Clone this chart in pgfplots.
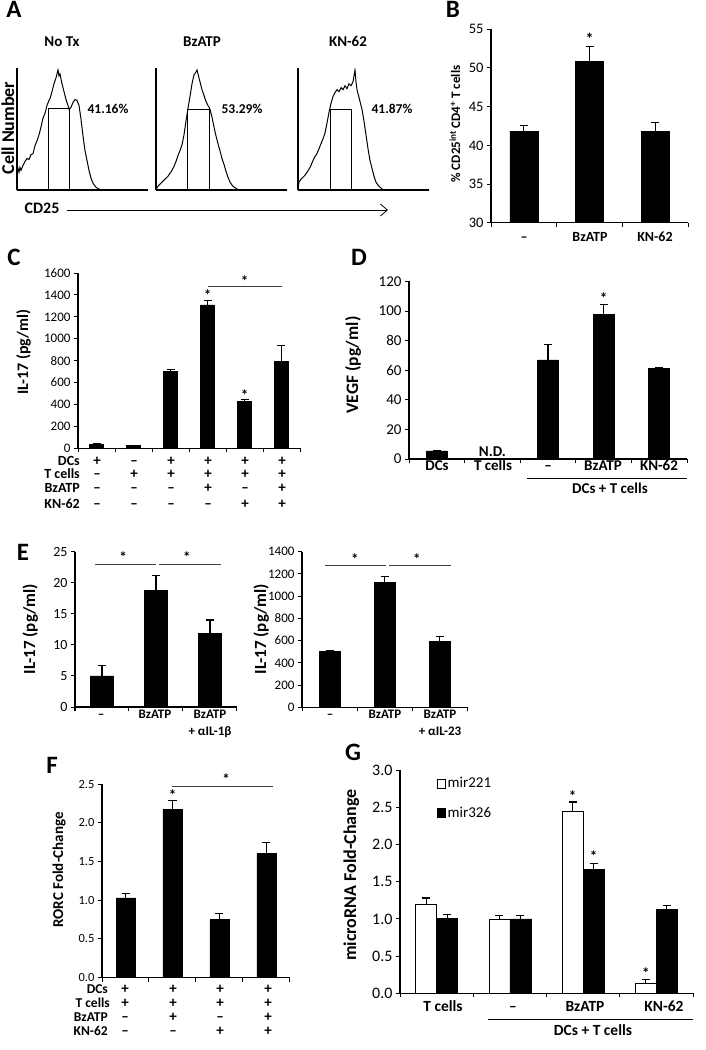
\documentclass[border=0pt]{standalone}
\usepackage{pgfplots}
\pgfplotsset{compat=1.18}
\usepackage{fontspec}
\setmainfont{Carlito}
\usetikzlibrary{arrows.meta}
\newcommand{\fs}[1]{\fontsize{#1}{#1}\selectfont}
\tikzset{tx/.style={inner sep=0pt, text height=0.63em, text depth=0pt, anchor=center}}
\pgfplotsset{
  barax/.style={scale only axis, anchor=south west, clip mode=individual,
    axis x line*=bottom, axis y line*=left, tick align=outside,
    major tick length=4pt, axis line style={line width=1.1pt},
    tick style={line width=1pt, black}, xticklabels={},
    /pgf/number format/assume math mode=true,
    /pgf/number format/1000 sep={}, scaled y ticks=false,
    ybar, xmin=0.5, ymin=0},
  eb/.style={draw=black, line width=0.5pt,
    error bars/y dir=plus, error bars/y explicit, error bars/error mark=|,
    error bars/error bar style={line width=1.1pt, black},
    error bars/error mark options={line width=1.1pt, black, mark size=4pt}},
  hist/.style={scale only axis, anchor=south west, clip mode=individual,
    width=131pt, height=122pt, xmin=0, xmax=131, ymin=0, ymax=124,
    axis x line*=bottom, axis y line*=left, ytick=\empty,
    xtick={0,3,...,130}, xticklabels={}, major tick length=1.5pt,
    tick align=inside, tick style={line width=0.4pt, black},
    axis line style={line width=1.1pt}},
}
\begin{document}
\begin{tikzpicture}
\path[use as bounding box] (0,0) rectangle (706pt,-1050pt);

% ---------------- Panel A ----------------
\begin{axis}[hist, at={(17pt,-190pt)}]
\addplot[black, line width=1pt] coordinates {(0,0)(0,16)(1,22)(2,18)(3,23)(4,20)(6,25)(8,29)(10,32)(12,31)(14,36)(16,37)(18,45)(20,50)(22,56)(24,64)(26,73)(28,78)(30,86)(32,91)(33,93)(35,100)(37,108)(39,114)(40,118)(41,122)(42,116)(43,118)(45,108)(47,100)(49,92)(51,86)(52,82)(54,84)(56,89)(58,92)(60,91)(62,86)(64,72)(66,55)(68,40)(70,30)(72,20)(74,12)(76,7)(78,4)(80,2)(83,0.5)(88,0)(131,0)};
\addplot[black, line width=0.7pt] coordinates {(31,0)(31,83)(52,83)(52,0)};
\end{axis}
\begin{axis}[hist, at={(156pt,-190pt)}]
\addplot[black, line width=1pt] coordinates {(0,0)(2,4)(4,6)(6,8)(8,10)(10,12)(12,14)(14,17)(16,20)(18,24)(20,29)(22,35)(24,40)(26,46)(28,56)(30,70)(32,83)(34,95)(36,108)(38,117)(40,120)(41,122)(42,118)(44,110)(46,102)(48,96)(50,90)(52,86)(54,82)(56,74)(58,64)(60,55)(62,47)(64,40)(66,32)(68,26)(70,19)(72,13)(74,8)(76,5)(78,3)(81,1)(84,0)(131,0)};
\addplot[black, line width=0.7pt] coordinates {(31,0)(31,82)(53,82)(53,0)};
\end{axis}
\begin{axis}[hist, at={(298pt,-190pt)}]
\addplot[black, line width=1pt] coordinates {(0,0)(1,8)(3,11)(5,13)(7,15)(9,18)(11,21)(13,25)(15,30)(17,34)(19,37)(21,42)(23,47)(25,52)(27,58)(29,68)(31,79)(33,88)(35,95)(37,99)(39,102)(41,100)(43,104)(45,102)(47,106)(49,103)(51,108)(53,106)(55,110)(56,116)(57,122)(58,110)(59,102)(60,98)(62,90)(64,82)(66,70)(68,56)(70,42)(72,30)(74,22)(76,14)(78,8)(80,5)(82,3)(84,1)(87,0)(131,0)};
\addplot[black, line width=0.7pt] coordinates {(32,0)(32,82)(53,82)(53,0)};
\end{axis}
\node[tx, font=\fs{25}\bfseries] at (14pt,-14pt) {A};
\node[tx, font=\fs{15}\bfseries] at (62pt,-43pt) {No Tx};
\node[tx, font=\fs{15}\bfseries] at (202pt,-43pt) {BzATP};
\node[tx, font=\fs{15}\bfseries] at (348pt,-43pt) {KN-62};
\node[tx, font=\fs{13.5}\bfseries] at (108pt,-110pt) {41.16\%};
\node[tx, font=\fs{13.5}\bfseries] at (242pt,-110pt) {53.29\%};
\node[tx, font=\fs{13.5}\bfseries] at (392pt,-110pt) {41.87\%};
\node[tx, rotate=90, font=\fs{18}\bfseries] at (11pt,-128pt) {Cell Number};
\node[tx, font=\fs{16}\bfseries] at (42pt,-210pt) {CD25};
\draw[line width=0.8pt, -{Straight Barb[length=7pt,width=12pt]}] (67pt,-210pt) -- (388pt,-210pt);

% ---------------- Panel B ----------------
\begin{axis}[barax, at={(491pt,-222.7pt)}, width=197pt, height=193.4pt,
  xmax=3.5, ymin=30, ymax=55, ytick={30,35,...,55}, xtick={0.5,1.5,2.5,3.5},
  bar width=28pt, yticklabel style={font=\fs{14.5}}]
\addplot[fill=black, eb] coordinates {(1,41.8) +- (0,0.8) (2,50.9) +- (0,1.9) (3,41.8) +- (0,1.2)};
\node[font=\fs{16}\bfseries, inner sep=0pt] at (axis cs:2,53.8) {*};
\end{axis}
\node[tx, font=\fs{25}\bfseries] at (453pt,-14pt) {B};
\node[tx, rotate=90, font=\fs{13}\bfseries] at (457pt,-124pt) {\% CD25\textsuperscript{int} CD4\textsuperscript{+} T cells};
\node[tx, font=\fs{14}\bfseries] at (524pt,-238pt) {–};
\node[tx, font=\fs{14}\bfseries] at (590pt,-238pt) {BzATP};
\node[tx, font=\fs{14}\bfseries] at (655pt,-238pt) {KN-62};

% ---------------- Panel C ----------------
\begin{axis}[barax, at={(78pt,-448.3pt)}, width=222pt, height=175.3pt,
  xmax=6.5, ymax=1600, ytick={0,200,...,1600}, xtick={0.5,1.5,...,6.5},
  bar width=14pt, yticklabel style={font=\fs{13}}]
\addplot[fill=black, eb] coordinates {(1,35) +- (0,5) (2,25) +- (0,4) (3,700) +- (0,20) (4,1310) +- (0,40) (5,425) +- (0,18) (6,795) +- (0,145)};
\node[font=\fs{15}\bfseries, inner sep=0pt] at (axis cs:4,1400) {*};
\node[font=\fs{15}\bfseries, inner sep=0pt] at (axis cs:5,487) {*};
\draw[line width=1pt, black!75] (axis cs:4,1473) -- (axis cs:6,1473);
\node[font=\fs{15}\bfseries, inner sep=0pt] at (axis cs:5,1525) {*};
\end{axis}
\node[tx, font=\fs{25}\bfseries] at (14pt,-262pt) {C};
\node[tx, rotate=90, font=\fs{16}\bfseries] at (25pt,-352pt) {IL-17 (pg/ml)};
\node[tx, anchor=east, font=\fs{14}\bfseries] at (80pt,-462pt) {DCs};
\node[tx, anchor=east, font=\fs{14}\bfseries] at (80pt,-475pt) {T cells};
\node[tx, anchor=east, font=\fs{14}\bfseries] at (80pt,-489pt) {BzATP};
\node[tx, anchor=east, font=\fs{14}\bfseries] at (80pt,-505pt) {KN-62};
\foreach \x/\s in {97/+,134/–,171/+,208/+,245/+,282/+} \node[tx, font=\fs{15}\bfseries] at (\x pt,-462pt) {\s};
\foreach \x/\s in {97/–,134/+,171/+,208/+,245/+,282/+} \node[tx, font=\fs{15}\bfseries] at (\x pt,-475pt) {\s};
\foreach \x/\s in {97/–,134/–,171/–,208/+,245/–,282/+} \node[tx, font=\fs{15}\bfseries] at (\x pt,-489pt) {\s};
\foreach \x/\s in {97/–,134/–,171/–,208/–,245/+,282/+} \node[tx, font=\fs{15}\bfseries] at (\x pt,-505pt) {\s};

% ---------------- Panel D ----------------
\begin{axis}[barax, at={(409pt,-459pt)}, width=278pt, height=177.6pt,
  xmax=5.5, ymax=120, ytick={0,20,...,120}, xtick={0.5,1.5,...,5.5},
  bar width=21pt, yticklabel style={font=\fs{15}}]
\addplot[fill=black, eb] coordinates {(1,5.5) +- (0,0.4) (3,67) +- (0,10.5) (4,97.5) +- (0,7) (5,61.3) +- (0,0.5)};
\node[font=\fs{15}\bfseries, inner sep=0pt] at (axis cs:4,109) {*};
\node[anchor=south, font=\fs{15}\bfseries, inner sep=0pt, yshift=2.5pt] at (axis cs:2,0) {N.D.};
\end{axis}
\node[tx, font=\fs{25}\bfseries] at (359pt,-262pt) {D};
\node[tx, rotate=90, font=\fs{17.5}\bfseries] at (355pt,-365pt) {VEGF (pg/ml)};
\node[tx, font=\fs{15}\bfseries] at (437pt,-467pt) {DCs};
\node[tx, font=\fs{15}\bfseries] at (493pt,-467pt) {T cells};
\node[tx, font=\fs{15}\bfseries] at (548pt,-467pt) {–};
\node[tx, font=\fs{15}\bfseries] at (603pt,-467pt) {BzATP};
\node[tx, font=\fs{15}\bfseries] at (659pt,-467pt) {KN-62};
\draw[line width=1pt] (527pt,-478pt) -- (687pt,-478pt);
\node[tx, font=\fs{15}\bfseries] at (610pt,-490pt) {DCs + T cells};

% ---------------- Panel E ----------------
\begin{axis}[barax, at={(75pt,-707pt)}, width=162pt, height=155.3pt,
  xmax=3.5, ymax=25, ytick={0,5,...,25}, xtick={0.5,1.5,2.5,3.5},
  bar width=23pt, yticklabel style={font=\fs{14}}]
\addplot[fill=black, eb] coordinates {(1,5.0) +- (0,1.7) (2,18.8) +- (0,2.4) (3,11.9) +- (0,2.1)};
\draw[line width=1pt, black!75] (axis cs:0.87,23) -- (axis cs:2.0,23);
\draw[line width=1pt, black!75] (axis cs:2.06,23) -- (axis cs:3.2,23);
\node[font=\fs{15}\bfseries, inner sep=0pt] at (axis cs:1.39,24.2) {*};
\node[font=\fs{15}\bfseries, inner sep=0pt] at (axis cs:2.57,24.2) {*};
\end{axis}
\node[tx, font=\fs{25}\bfseries] at (23pt,-557pt) {E};
\node[tx, rotate=90, font=\fs{17}\bfseries] at (32pt,-629pt) {IL-17 (pg/ml)};
\node[tx, font=\fs{13}\bfseries] at (101pt,-715pt) {–};
\node[tx, font=\fs{13}\bfseries] at (155pt,-715pt) {BzATP};
\node[tx, font=\fs{13}\bfseries] at (210pt,-715pt) {BzATP};
\node[tx, font=\fs{13}\bfseries] at (210pt,-732pt) {+ αIL-1β};

\begin{axis}[barax, at={(302pt,-707.3pt)}, width=165pt, height=155.6pt,
  xmax=3.5, ymax=1400, ytick={0,200,...,1400}, xtick={0.5,1.5,2.5,3.5},
  bar width=21pt, yticklabel style={font=\fs{13}}]
\addplot[fill=black, eb] coordinates {(1,505) +- (0,8) (2,1125) +- (0,50) (3,591) +- (0,50)};
\draw[line width=1pt, black!75] (axis cs:0.92,1274) -- (axis cs:2.03,1274);
\draw[line width=1pt, black!75] (axis cs:2.08,1274) -- (axis cs:3.2,1274);
\node[font=\fs{15}\bfseries, inner sep=0pt] at (axis cs:1.46,1335) {*};
\node[font=\fs{15}\bfseries, inner sep=0pt] at (axis cs:2.59,1335) {*};
\end{axis}
\node[tx, rotate=90, font=\fs{17}\bfseries] at (263pt,-629pt) {IL-17 (pg/ml)};
\node[tx, font=\fs{13}\bfseries] at (330pt,-715pt) {–};
\node[tx, font=\fs{13}\bfseries] at (385pt,-715pt) {BzATP};
\node[tx, font=\fs{13}\bfseries] at (440pt,-715pt) {BzATP};
\node[tx, font=\fs{13}\bfseries] at (440pt,-732pt) {+ αIL-23};

% ---------------- Panel F ----------------
\begin{axis}[barax, at={(102pt,-977.7pt)}, width=188pt, height=193.7pt,
  xmax=4.5, ymax=2.5, ytick={0,0.5,...,2.5}, xtick={0.5,1.5,...,4.5},
  bar width=19pt, yticklabel style={font=\fs{12.5}, /pgf/number format/.cd, fixed, fixed zerofill, precision=1}]
\addplot[fill=black, eb] coordinates {(1,1.03) +- (0,0.06) (2,2.17) +- (0,0.12) (3,0.75) +- (0,0.08) (4,1.60) +- (0,0.15)};
\node[font=\fs{15}\bfseries, inner sep=0pt] at (axis cs:2,2.36) {*};
\draw[line width=1pt, black!75] (axis cs:2,2.47) -- (axis cs:4.14,2.47);
\node[font=\fs{15}\bfseries, inner sep=0pt] at (axis cs:3.14,2.56) {*};
\end{axis}
\node[tx, font=\fs{25}\bfseries] at (52pt,-770pt) {F};
\node[tx, rotate=90, font=\fs{15}\bfseries] at (60pt,-870pt) {RORC Fold-Change};
\node[tx, anchor=east, font=\fs{13.5}\bfseries] at (108pt,-990pt) {DCs};
\node[tx, anchor=east, font=\fs{13.5}\bfseries] at (110pt,-1004pt) {T cells};
\node[tx, anchor=east, font=\fs{13.5}\bfseries] at (108pt,-1018pt) {BzATP};
\node[tx, anchor=east, font=\fs{13.5}\bfseries] at (108pt,-1032pt) {KN-62};
\foreach \x/\s in {125/+,173/+,220/+,268/+} \node[tx, font=\fs{15}\bfseries] at (\x pt,-990pt) {\s};
\foreach \x/\s in {125/+,173/+,220/+,268/+} \node[tx, font=\fs{15}\bfseries] at (\x pt,-1004pt) {\s};
\foreach \x/\s in {125/–,173/+,220/–,268/+} \node[tx, font=\fs{15}\bfseries] at (\x pt,-1018pt) {\s};
\foreach \x/\s in {125/–,173/–,220/+,268/+} \node[tx, font=\fs{15}\bfseries] at (\x pt,-1032pt) {\s};

% ---------------- Panel G ----------------
\begin{axis}[barax, at={(400pt,-993.3pt)}, width=293pt, height=223.3pt,
  xmax=4.5, ymax=3, ytick={0,0.5,...,3}, xtick={0.5,1.5,...,4.5},
  bar width=21pt, ybar=0pt,
  yticklabel style={font=\fs{16}, /pgf/number format/.cd, fixed, fixed zerofill, precision=1},
  legend style={at={(rel axis cs:0.115,0.985)}, anchor=north west, draw=none, fill=none,
    font=\fs{15}, row sep=14pt},
  legend cell align=left,
  legend image code/.code={\draw[#1, line width=0.8pt] (0pt,-4.5pt) rectangle (8pt,4.5pt);}]
\addplot[fill=white, eb] coordinates {(1,1.2) +- (0,0.08) (2,1.0) +- (0,0.05) (3,2.44) +- (0,0.13) (4,0.14) +- (0,0.04)};
\addplot[fill=black, eb] coordinates {(1,1.01) +- (0,0.05) (2,1.0) +- (0,0.05) (3,1.67) +- (0,0.08) (4,1.13) +- (0,0.05)};
\legend{mir221, mir326}
\node[font=\fs{15}\bfseries, inner sep=0pt, xshift=-10.5pt] at (axis cs:3,2.65) {*};
\node[font=\fs{15}\bfseries, inner sep=0pt, xshift=10.5pt] at (axis cs:3,1.84) {*};
\node[font=\fs{15}\bfseries, inner sep=0pt, xshift=-10.5pt] at (axis cs:4,0.27) {*};
\end{axis}
\node[tx, font=\fs{25}\bfseries] at (353pt,-757pt) {G};
\node[tx, rotate=90, font=\fs{18}\bfseries] at (353pt,-875pt) {microRNA Fold-Change};
\node[tx, font=\fs{15.5}\bfseries] at (443pt,-1008pt) {T cells};
\node[tx, font=\fs{15.5}\bfseries] at (513pt,-1008pt) {–};
\node[tx, font=\fs{15.5}\bfseries] at (585pt,-1008pt) {BzATP};
\node[tx, font=\fs{15.5}\bfseries] at (664pt,-1008pt) {KN-62};
\draw[line width=1pt] (488pt,-1019pt) -- (693pt,-1019pt);
\node[tx, font=\fs{15.5}\bfseries] at (593pt,-1032pt) {DCs + T cells};
\end{tikzpicture}
\end{document}
